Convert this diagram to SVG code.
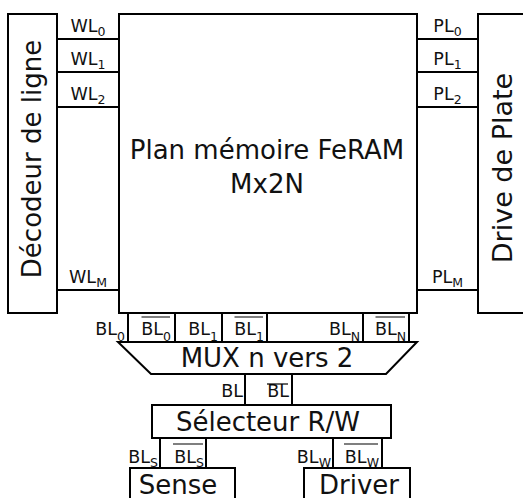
<svg xmlns="http://www.w3.org/2000/svg" width="523" height="498" viewBox="0 0 523 498">
<style>
.box{fill:#fff;stroke:#000;stroke-width:2}
.w{stroke:#000;stroke-width:2;fill:none}
.ob{stroke:#000;stroke-width:1.2;fill:none}
text{font-family:"DejaVu Sans",Verdana,sans-serif;fill:#111}
.big{font-size:26px}
.lab{font-size:17.5px}
.sub{font-size:12.5px}
</style>
<rect width="523" height="498" fill="#fff"/>
<g id="connectors">
<path class="w" d="M57 39H119M57 72H119M57 107H119M57 290H119"/>
<path class="w" d="M417 39H478M417 72H478M417 107H478M417 290H478"/>
<path class="w" d="M128 313V342M175 313V342M222 313V342M267 313V342M363 313V342M409 313V342"/>
<path class="w" d="M245 374V405M292 374V405"/>
<path class="w" d="M160 438V468M206 438V468M333 438V468M382 438V468"/>
</g>
<g id="decodeur">
<rect class="box" x="8" y="14" width="49" height="299"/>
<text class="big" text-anchor="middle" transform="translate(41,159) rotate(-90)">Décodeur de ligne</text>
</g>
<g id="plan">
<rect class="box" x="119" y="14" width="298" height="299"/>
<text class="big" x="267" y="159" text-anchor="middle">Plan mémoire FeRAM</text>
<text class="big" x="267" y="193" text-anchor="middle">Mx2N</text>
</g>
<g id="drive-plate">
<rect class="box" x="478" y="14" width="60" height="299"/>
<text class="big" style="font-size:27px" text-anchor="middle" transform="translate(512,168) rotate(-90)">Drive de Plate</text>
</g>
<g id="wl-labels">
<text class="lab" x="88" y="32" text-anchor="middle">WL<tspan class="sub" dy="3.5">0</tspan></text>
<text class="lab" x="88" y="65" text-anchor="middle">WL<tspan class="sub" dy="3.5">1</tspan></text>
<text class="lab" x="88" y="100" text-anchor="middle">WL<tspan class="sub" dy="3.5">2</tspan></text>
<text class="lab" x="88" y="283" text-anchor="middle">WL<tspan class="sub" dy="3.5">M</tspan></text>
</g>
<g id="pl-labels">
<text class="lab" x="447.5" y="32" text-anchor="middle">PL<tspan class="sub" dy="3.5">0</tspan></text>
<text class="lab" x="447.5" y="65" text-anchor="middle">PL<tspan class="sub" dy="3.5">1</tspan></text>
<text class="lab" x="447.5" y="100" text-anchor="middle">PL<tspan class="sub" dy="3.5">2</tspan></text>
<text class="lab" x="447.5" y="283" text-anchor="middle">PL<tspan class="sub" dy="3.5">M</tspan></text>
</g>
<g id="bl-labels">
<text class="lab" x="125" y="335" text-anchor="end">BL<tspan class="sub" dy="6">0</tspan></text>
<text class="lab" x="171" y="335" text-anchor="end">BL<tspan class="sub" dy="6">0</tspan></text>
<text class="lab" x="218" y="335" text-anchor="end">BL<tspan class="sub" dy="6">1</tspan></text>
<text class="lab" x="264" y="335" text-anchor="end">BL<tspan class="sub" dy="6">1</tspan></text>
<text class="lab" x="360" y="335" text-anchor="end">BL<tspan class="sub" dy="6">N</tspan></text>
<text class="lab" x="406" y="335" text-anchor="end">BL<tspan class="sub" dy="6">N</tspan></text>
<path class="ob" d="M141.5 317H170M234.5 317H263M375.5 317H405"/>
</g>
<g id="mux">
<polygon class="box" points="118,342 417,342 386,374 151,374"/>
<text class="big" x="267" y="367" text-anchor="middle">MUX n vers 2</text>
</g>
<g id="bl-mux-labels">
<text class="lab" x="243" y="397" text-anchor="end">BL</text>
<text class="lab" x="289" y="397" text-anchor="end">BL</text>
<path class="ob" d="M267 384H288"/>
</g>
<g id="selecteur">
<rect class="box" x="152" y="405" width="239" height="33"/>
<text class="big" x="268" y="431" text-anchor="middle">Sélecteur R/W</text>
</g>
<g id="bl-sel-labels">
<text class="lab" x="158" y="463" text-anchor="end">BL<tspan class="sub" dy="4">S</tspan></text>
<text class="lab" x="204" y="463" text-anchor="end">BL<tspan class="sub" dy="4">S</tspan></text>
<text class="lab" x="331" y="463" text-anchor="end">BL<tspan class="sub" dy="4">W</tspan></text>
<text class="lab" x="379" y="463" text-anchor="end">BL<tspan class="sub" dy="4">W</tspan></text>
<path class="ob" d="M173 444H203M344 444H378"/>
</g>
<g id="sense">
<rect class="box" x="130" y="468" width="105" height="45"/>
<text class="big" x="178" y="494" text-anchor="middle">Sense</text>
</g>
<g id="driver">
<rect class="box" x="304" y="468" width="106" height="45"/>
<text class="big" x="359" y="494" text-anchor="middle">Driver</text>
</g>
</svg>
